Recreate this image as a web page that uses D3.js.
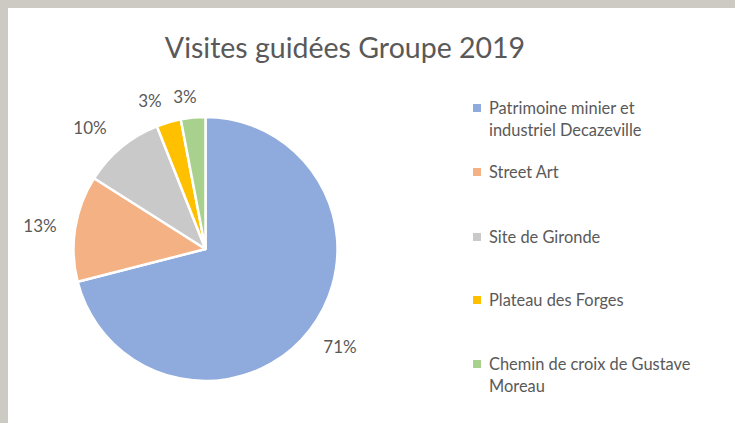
<!DOCTYPE html>
<html><head><meta charset="utf-8">
<script src="https://cdn.jsdelivr.net/npm/d3@7"></script>
<style>body{margin:0;background:#fff;}svg{display:block;}</style>
</head><body>
<svg id="c" width="735" height="423"></svg>
<script>
const categories = ["Patrimoine minier et industriel Decazeville","Street Art","Site de Gironde","Plateau des Forges","Chemin de croix de Gustave Moreau"];
const legendLines = [["Patrimoine minier et","industriel Decazeville"],["Street Art"],["Site de Gironde"],["Plateau des Forges"],["Chemin de croix de Gustave","Moreau"]];
const values = [71, 13, 10, 3, 3];
const labels = ["71%","13%","10%","3%","3%"];
const colors = ["#8faadc","#f4b183","#c9c9c9","#ffc000","#a9d18e"];
const title = "Visites guidées Groupe 2019";

const svg = d3.select("#c");
const font = "Lato, 'Open Sans', sans-serif";
svg.append("rect").attr("width",735).attr("height",423).attr("fill","#cdc9c3");
svg.append("rect").attr("x",8).attr("y",8).attr("width",727).attr("height",415).attr("fill","#fff");

svg.append("text").attr("x",345).attr("y",58).attr("text-anchor","middle")
  .attr("font-family",font).attr("font-size",28.5).attr("fill","#595959").text(title);

const cx=205.5, cy=249, r=132;
const pie = d3.pie().sort(null).value(d=>d)(values);
const arc = d3.arc().innerRadius(0).outerRadius(r);
const g = svg.append("g").attr("transform",`translate(${cx},${cy})`);
g.selectAll("path").data(pie).enter().append("path")
  .attr("d",arc).attr("fill",(d,i)=>colors[i]).attr("stroke","#fff").attr("stroke-width",2.5).attr("stroke-linejoin","round");

const labelPos = [[340,353],[40,232],[90,134],[150,107],[185,103]];
svg.selectAll("text.lbl").data(labels).enter().append("text").attr("class","lbl")
  .attr("x",(d,i)=>labelPos[i][0]).attr("y",(d,i)=>labelPos[i][1]).attr("text-anchor","middle")
  .attr("font-family",font).attr("font-size",17).attr("fill","#595959").text(d=>d);

const legY = [108,172,237,300,364];
const lg = svg.append("g");
legendLines.forEach((lines,i)=>{
  lg.append("rect").attr("x",473).attr("y",legY[i]-4).attr("width",8).attr("height",8).attr("fill",colors[i]);
  lines.forEach((t,j)=>{
    lg.append("text").attr("x",489).attr("y",legY[i]+6+j*22).attr("font-family",font).attr("font-size",16.4).attr("fill","#595959").text(t);
  });
});
</script>
</body></html>
